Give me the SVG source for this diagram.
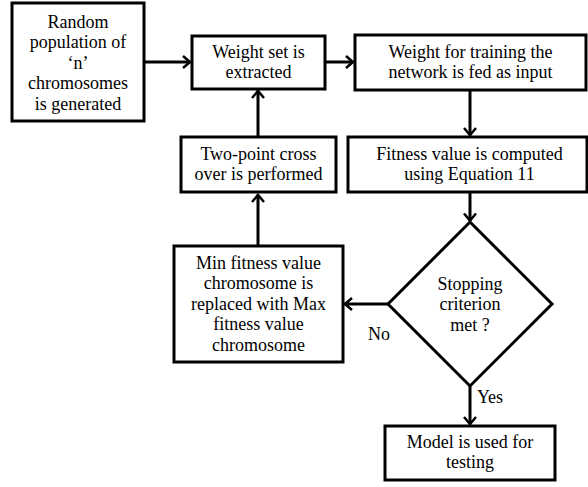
<svg xmlns="http://www.w3.org/2000/svg" width="588" height="487" viewBox="0 0 588 487">
<defs>
<style>
.box{fill:#fff;stroke:#000;stroke-width:3}
.t{font-family:'Liberation Serif','Times New Roman','DejaVu Serif',serif;font-size:18px;fill:#000;text-anchor:middle}
.c{stroke:#000;stroke-width:3;fill:none}
</style>
<marker id="ah" markerUnits="userSpaceOnUse" viewBox="0 0 10 14" refX="8.5" refY="7" markerWidth="10" markerHeight="14" orient="auto">
<path d="M1,1 L8,7 L1,13" fill="none" stroke="#000" stroke-width="2.5"/>
</marker>
</defs>
<rect width="588" height="487" fill="#fff"/>
<g id="connectors">
<line class="c" x1="144" y1="62" x2="190.5" y2="62" marker-end="url(#ah)"/>
<line class="c" x1="325" y1="62" x2="353.5" y2="62" marker-end="url(#ah)"/>
<line class="c" x1="470" y1="90" x2="470" y2="135.5" marker-end="url(#ah)"/>
<line class="c" x1="470" y1="192" x2="470" y2="221" marker-end="url(#ah)"/>
<line class="c" x1="388" y1="304" x2="344.5" y2="304" marker-end="url(#ah)"/>
<line class="c" x1="258" y1="246" x2="258" y2="194.5" marker-end="url(#ah)"/>
<line class="c" x1="258" y1="137" x2="258" y2="90.5" marker-end="url(#ah)"/>
<line class="c" x1="470" y1="386" x2="470" y2="424.5" marker-end="url(#ah)"/>
<text class="t" x="379" y="340" font-family="Liberation Serif">No</text>
<text class="t" x="490" y="403" font-family="Liberation Serif">Yes</text>
</g>
<g id="n1">
<rect class="box" x="12" y="3" width="132" height="118"/>
<text class="t" x="78" y="27.5">Random</text>
<text class="t" x="78" y="48">population of</text>
<text class="t" x="78" y="68.5">‘n’</text>
<text class="t" x="78" y="89">chromosomes</text>
<text class="t" x="78" y="109.5">is generated</text>
</g>
<g id="n2">
<rect class="box" x="192" y="36" width="133" height="53"/>
<text class="t" x="258.5" y="57.5">Weight set is</text>
<text class="t" x="258.5" y="78">extracted</text>
</g>
<g id="n3">
<rect class="box" x="355" y="35" width="231" height="55"/>
<text class="t" x="470.5" y="57.5">Weight for training the</text>
<text class="t" x="470.5" y="78">network is fed as input</text>
</g>
<g id="n4">
<rect class="box" x="181" y="137" width="155" height="55"/>
<text class="t" x="258.5" y="159.5">Two-point cross</text>
<text class="t" x="258.5" y="180">over is performed</text>
</g>
<g id="n5">
<rect class="box" x="348" y="137" width="239" height="55"/>
<text class="t" x="469.5" y="159.5">Fitness value is computed</text>
<text class="t" x="469.5" y="180">using Equation 11</text>
</g>
<g id="n6">
<polygon class="box" points="470,222 552,304 470,386 388,304"/>
<text class="t" x="470" y="289.5">Stopping</text>
<text class="t" x="470" y="310">criterion</text>
<text class="t" x="470" y="330.5">met ?</text>
</g>
<g id="n7">
<rect class="box" x="174" y="246" width="169" height="116"/>
<text class="t" x="258.5" y="268.5">Min fitness value</text>
<text class="t" x="258.5" y="289">chromosome is</text>
<text class="t" x="258.5" y="309.5">replaced with Max</text>
<text class="t" x="258.5" y="330">fitness value</text>
<text class="t" x="258.5" y="350.5">chromosome</text>
</g>
<g id="n8">
<rect class="box" x="385" y="426" width="170" height="54"/>
<text class="t" x="470" y="447.5">Model is used for</text>
<text class="t" x="470" y="468">testing</text>
</g>
</svg>
